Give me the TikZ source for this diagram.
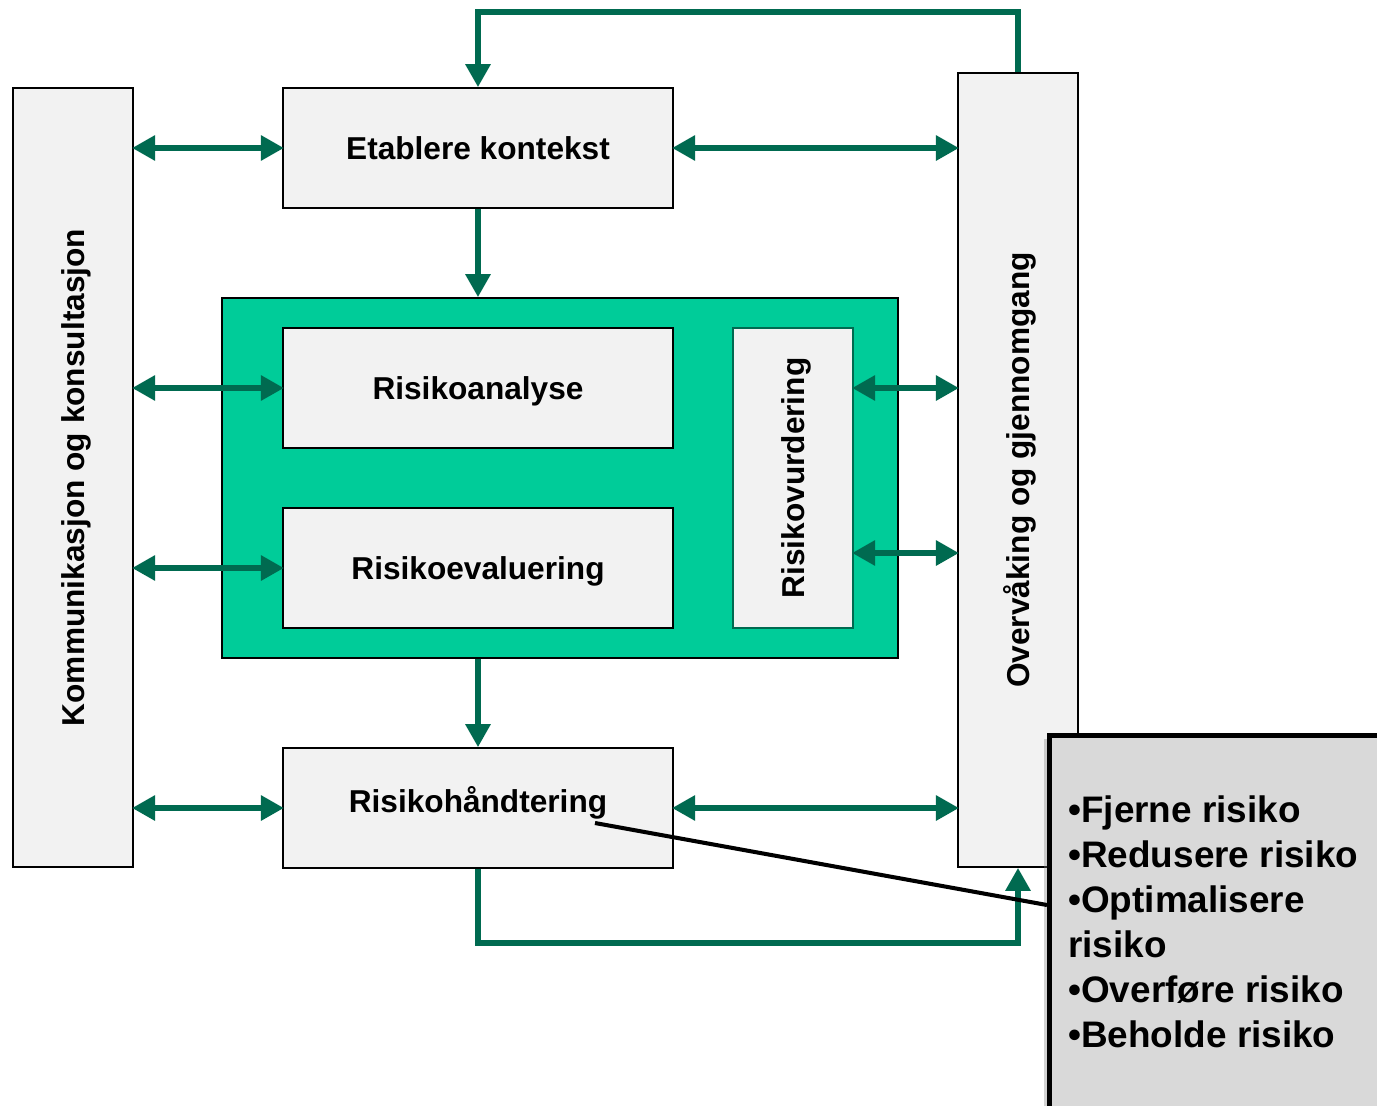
\documentclass[tikz,border=0pt]{standalone}
\usepackage{fontspec}
\setmainfont{Liberation Sans}
\usetikzlibrary{arrows.meta,shadows}

\definecolor{boxgray}{RGB}{242,242,242}
\definecolor{panelgreen}{RGB}{0,204,153}
\definecolor{arrowgreen}{RGB}{0,106,80}
\definecolor{calloutgray}{RGB}{217,217,217}

\begin{document}
\begin{tikzpicture}[>={Triangle[length=0.46cm,width=0.48cm]},
  box/.style={rectangle,draw=black,line width=0.9pt,fill=boxgray,
    minimum width=7.8cm,minimum height=2.4cm,text height=13pt,text depth=0pt,
    font=\bfseries\fontsize{18}{22}\selectfont},
  side box/.style={box,minimum width=2.4cm,rotate=90}]

  \tikzstyle{biarrow} = [<->,draw=arrowgreen,line width=3.4pt,shorten <=-1pt,shorten >=-1pt]
  \tikzstyle{flow} = [->,draw=arrowgreen,line width=3.4pt]

  \useasboundingbox (0,0) rectangle (27.54,-22.1);

  \node[rectangle,draw=black,line width=0.9pt,fill=panelgreen,
    minimum width=13.52cm,minimum height=7.2cm] (panel) at (11.2,-9.56) {};
  \node[side box,minimum width=15.58cm] (kommunikasjon) at (1.46,-9.55) {Kommunikasjon og konsultasjon};
  \node[side box,minimum width=15.88cm] (overvaking) at (20.36,-9.4) {Overvåking og gjennomgang};
  \node[box] (etablere) at (9.56,-2.96) {Etablere kontekst};
  \node[box] (analyse) at (9.56,-7.76) {Risikoanalyse};
  \node[box] (evaluering) at (9.56,-11.36) {Risikoevaluering};
  \node[side box,draw=arrowgreen,minimum width=6cm] (vurdering) at (15.86,-9.56) {Risikovurdering};
  \node[box] (handtering) at (9.56,-16.16) {\raisebox{4pt}{Risikohåndtering}};

  % piler mot kommunikasjon og overvaking
  \draw[biarrow] (kommunikasjon.south |- etablere.west) -- (etablere.west);
  \draw[biarrow] (kommunikasjon.south |- analyse.west) -- (analyse.west);
  \draw[biarrow] (kommunikasjon.south |- evaluering.west) -- (evaluering.west);
  \draw[biarrow] (kommunikasjon.south |- handtering.west) -- (handtering.west);
  \draw[biarrow] (etablere.east) -- (etablere.east -| overvaking.north);
  \draw[biarrow] (handtering.east) -- (handtering.east -| overvaking.north);
  \draw[biarrow] (vurdering.south |- analyse.east) -- (analyse.east -| overvaking.north);
  \path (vurdering.south) ++(0,-1.5) coordinate (vurd2);
  \draw[biarrow] (vurd2) -- (vurd2 -| overvaking.north);

  % hovedflyt
  \draw[flow] (etablere.south) -- (etablere.south |- panel.north);
  \draw[flow] (etablere.south |- panel.south) -- (handtering.north);
  \draw[flow] (overvaking.east) -- ++(0,1.2) -| (etablere.north);
  \draw[flow] (handtering.south) -- ++(0,-1.48) -| (overvaking.west);

  % tiltak
  \node[rectangle,draw=black,line width=2.8pt,fill=calloutgray,anchor=north west,
    minimum width=7.5cm,minimum height=8.5cm,
    drop shadow={shadow xshift=-3pt,shadow yshift=-2pt,opacity=.35}] (tiltak) at (20.94,-14.66) {};
  \node[anchor=north west,inner sep=0pt,align=left,
    font=\bfseries\fontsize{21}{25.6}\selectfont] (tiltaktekst) at (21.36,-15.9)
    {•Fjerne risiko\\•Redusere risiko\\•Optimalisere\\risiko\\•Overføre risiko\\•Beholde risiko};
  \coordinate (pekerstart) at (20.94,-18.1);
  \coordinate (peker) at (11.9,-16.46);
  \draw[line width=2.3pt] (pekerstart) -- (peker);
\end{tikzpicture}
\end{document}
